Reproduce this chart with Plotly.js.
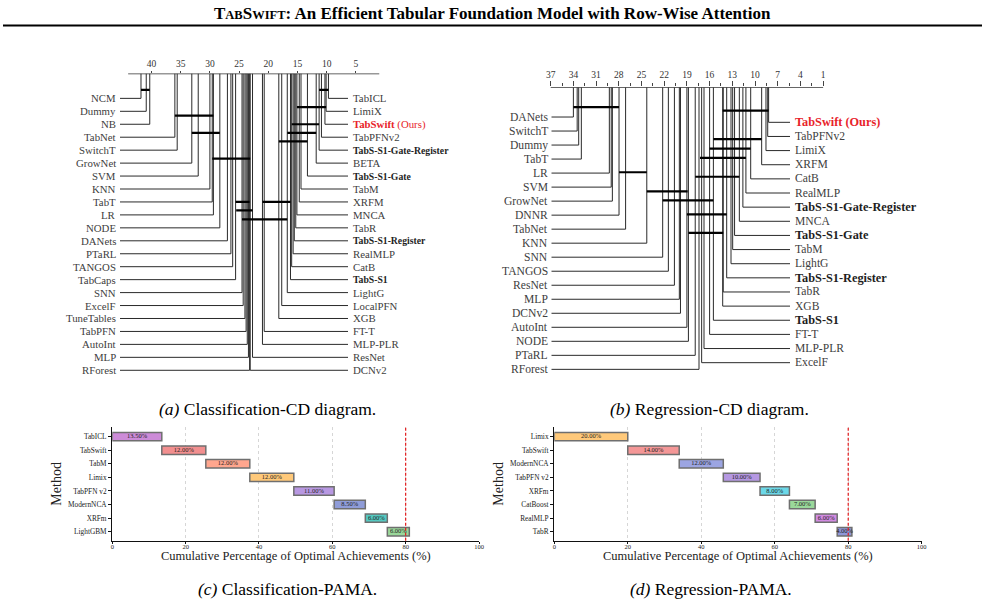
<!DOCTYPE html>
<html><head><meta charset="utf-8">
<script src="https://cdn.plot.ly/plotly-3.0.1.min.js"></script>
<style>html,body{margin:0;padding:0;background:#fff}#chart{width:985px;height:604px}</style>
</head><body><div id="chart"></div>
<script>
// ---------------- DATA ----------------
// (a) Classification CD diagram
const cdA_leftMethods = ["NCM","Dummy","NB","TabNet","SwitchT","GrowNet","SVM","KNN","TabT","LR","NODE","DANets","PTaRL","TANGOS","TabCaps","SNN","ExcelF","TuneTables","TabPFN","AutoInt","MLP","RForest"];
const cdA_leftRanks = [41.8,40.9,40.3,36.0,35.6,33.1,32.0,30.0,29.6,29.4,28.3,27.0,26.4,26.1,25.6,24.5,24.3,24.0,23.8,23.6,23.4,23.2];
const cdA_rightMethods = ["TabICL","LimiX","TabSwift (Ours)","TabPFNv2","TabS-S1-Gate-Register","BETA","TabS-S1-Gate","TabM","XRFM","MNCA","TabR","TabS-S1-Register","RealMLP","CatB","TabS-S1","LightG","LocalPFN","XGB","FT-T","MLP-PLR","ResNet","DCNv2"];
const cdA_rightRanks = [9.7,10.1,10.3,10.9,11.3,11.8,13.3,14.4,14.7,15.1,15.3,15.55,15.75,16.0,16.2,16.75,17.7,18.2,20.7,21.0,22.7,23.1];
const cdA_ticks = [40,35,30,25,20,15,10,5];
// cliques: worse rank, better rank, level (in label rows)
const cdA_cliqueLo = [41.8,11.3,15.1,36.0,16.0,33.1,16.75,18.2,29.6,25.6,21.0,25.5,24.5];
const cdA_cliqueHi = [40.3,9.7,10.1,29.4,11.3,28.3,11.8,13.3,23.1,23.2,16.2,22.7,16.75];
const cdA_cliqueLevel = [-0.65,-0.65,0.67,1.33,2.0,2.66,2.66,3.32,4.66,8.0,8.0,8.65,9.34];

// (b) Regression CD diagram
const cdB_leftMethods = ["DANets","SwitchT","Dummy","TabT","LR","SVM","GrowNet","DNNR","TabNet","KNN","SNN","TANGOS","ResNet","MLP","DCNv2","AutoInt","NODE","PTaRL","RForest"];
const cdB_leftRanks = [34.0,33.5,33.3,32.95,29.25,29.0,28.85,27.97,27.1,24.3,22.2,21.45,20.65,20.0,19.85,19.0,18.8,17.9,17.4];
const cdB_rightMethods = ["TabSwift (Ours)","TabPFNv2","LimiX","XRFM","CatB","RealMLP","TabS-S1-Gate-Register","MNCA","TabS-S1-Gate","TabM","LightG","TabS-S1-Register","TabR","XGB","TabS-S1","FT-T","MLP-PLR","ExcelF"];
const cdB_rightRanks = [8.2,8.32,8.55,9.12,10.57,11.2,11.6,12.07,12.7,12.95,13.17,13.74,14.2,14.27,15.5,16.0,16.74,17.05];
const cdB_ticks = [37,34,31,28,25,22,19,16,13,10,7,4,1];
const cdB_cliqueLo = [34.0,14.27,15.5,16.0,17.27,27.97,17.9,24.3,22.2,19.0,18.8];
const cdB_cliqueHi = [27.97,8.2,9.12,10.57,11.2,24.3,12.07,18.9,15.5,13.74,14.2];
const cdB_cliqueLevel = [-0.71,-0.45,1.57,2.26,2.92,3.94,4.26,5.3,5.94,6.95,8.27];

const boldMethods = ["TabS-S1-Gate-Register","TabS-S1-Gate","TabS-S1-Register","TabS-S1"];

// (c) Classification PAMA
const pamaC_methods = ["TabICL","TabSwift","TabM","Limix","TabPFN v2","ModernNCA","XRFm","LightGBM"];
const pamaC_values = [13.5,12,12,12,11,8.5,6,6];
const pamaC_colors = ["#cd8bd8","#f28f8f","#ffa68e","#ffc97a","#b898e2","#8f9cd8","#55c9c1","#9ad79a"];
// (d) Regression PAMA
const pamaD_methods = ["Limix","TabSwift","ModernNCA","TabPFN v2","XRFm","CatBoost","RealMLP","TabR"];
const pamaD_values = [20,14,12,10,8,7,6,4];
const pamaD_colors = ["#ffc97a","#f49797","#9ca5e2","#b598e2","#6bd8e8","#9ad89a","#d28be2","#8f97d8"];
const pamaTicks = [0,20,40,60,80,100];
const pamaThreshold = 80;

// ---------------- LAYOUT HELPERS ----------------
const W = 985, H = 604;
const PX = p => p / W;
const PY = p => 1 - p / H;
const SERIF = '"Liberation Serif","Times New Roman",serif';
const traces = [], annotations = [], shapes = [];
const RED = '#e8232a';

function cdPanel(o) {
  const n = o.leftRanks.length + o.rightRanks.length;
  traces.push({type:'scatter', mode:'lines', xaxis:o.xa, yaxis:o.ya, x:[n,1], y:[o.axisRow,o.axisRow],
    line:{color:'#333', width:1.3}, hoverinfo:'skip', showlegend:false});
  const lx = [], ly = [];
  o.leftRanks.forEach((r,i) => { lx.push(r, r, o.leftEdge, null); ly.push(o.axisRow, i, i, null); });
  o.rightRanks.forEach((r,j) => { const y = o.rStart + o.rStep*j; lx.push(r, r, o.rightEdge, null); ly.push(o.axisRow, y, y, null); });
  traces.push({type:'scatter', mode:'lines', xaxis:o.xa, yaxis:o.ya, x:lx, y:ly,
    line:{color:'#2a2a2a', width:1}, hoverinfo:'skip', showlegend:false});
  const cx = [], cy = [];
  o.cLo.forEach((lo,k) => { cx.push(lo, o.cHi[k], null); cy.push(o.cLvl[k], o.cLvl[k], null); });
  traces.push({type:'scatter', mode:'lines', xaxis:o.xa, yaxis:o.ya, x:cx, y:cy,
    line:{color:'#000', width:2.2}, hoverinfo:'skip', showlegend:false});
  const lab = (name) => {
    if (name === 'TabSwift (Ours)') return {t: o.oursAllBold ? '<b>TabSwift (Ours)</b>' : '<b>TabSwift</b> (Ours)', c: RED, s: o.oursAllBold ? o.fsBold : o.fs};
    if (boldMethods.includes(name)) return {t:'<b>'+name+'</b>', c:'#1e1e1e', s:o.fsBold};
    return {t:name, c:'#404040', s:o.fs};
  };
  o.leftMethods.forEach((m,i) => { const L = lab(m);
    annotations.push({xref:o.xa, yref:o.ya, x:o.leftEdge, y:i, xanchor:'right', yanchor:'middle', xshift:-2,
      text:L.t, showarrow:false, font:{family:SERIF, size:L.s, color:L.c}}); });
  o.rightMethods.forEach((m,j) => { const L = lab(m);
    annotations.push({xref:o.xa, yref:o.ya, x:o.rightEdge, y:o.rStart + o.rStep*j, xanchor:'left', yanchor:'middle', xshift:3,
      text:L.t, showarrow:false, font:{family:SERIF, size:L.s, color:L.c}}); });
}

const rankA = p => 10 + (326.7 - p) / 5.84;
const rankB = p => 10 + (755 - p) / 7.567;

cdPanel({xa:'x', ya:'y', leftMethods:cdA_leftMethods, leftRanks:cdA_leftRanks, rightMethods:cdA_rightMethods, rightRanks:cdA_rightRanks,
  cLo:cdA_cliqueLo, cHi:cdA_cliqueHi, cLvl:cdA_cliqueLevel, axisRow:-1.92, leftEdge:rankA(120), rightEdge:rankA(348),
  rStart:0, rStep:1, fs:10.8, fsBold:9.7, oursAllBold:false});
cdPanel({xa:'x2', ya:'y2', leftMethods:cdB_leftMethods, leftRanks:cdB_leftRanks, rightMethods:cdB_rightMethods, rightRanks:cdB_rightRanks,
  cLo:cdB_cliqueLo, cHi:cdB_cliqueHi, cLvl:cdB_cliqueLevel, axisRow:-2.12, leftEdge:rankB(551.5), rightEdge:rankB(790),
  rStart:0.378, rStep:1.0086, fs:11.6, fsBold:12.3, oursAllBold:true});

function pamaPanel(xa, ya, methods, values, colors) {
  const base = []; let acc = 0;
  values.forEach(v => { base.push(acc); acc += v; });
  traces.push({type:'bar', orientation:'h', xaxis:xa, yaxis:ya, y:methods, x:values, base:base, width:0.62,
    marker:{color:colors, line:{color:'#6f6f6f', width:1.5}}, hoverinfo:'skip', showlegend:false});
  traces.push({type:'scatter', mode:'text', xaxis:xa, yaxis:ya, y:methods, x:values.map((v,i)=>base[i]+v/2),
    text:values.map(v=>v.toFixed(2)+'%'), textfont:{family:SERIF, size:6.5, color:'#222'}, cliponaxis:false,
    hoverinfo:'skip', showlegend:false});
  shapes.push({type:'line', xref:xa, yref:ya+' domain', x0:pamaThreshold, x1:pamaThreshold, y0:0, y1:1,
    line:{color:'#e41a1c', width:1.2, dash:'3px,2px'}});
  annotations.push({xref:xa+' domain', yref:'paper', x:0.5, y:PY(556), xanchor:'center', yanchor:'middle', showarrow:false,
    text:'Cumulative Percentage of Optimal Achievements (%)', font:{family:SERIF, size:12.5, color:'#222'}});
}
pamaPanel('x3','y3', pamaC_methods, pamaC_values, pamaC_colors);
pamaPanel('x4','y4', pamaD_methods, pamaD_values, pamaD_colors);

// ---------------- AXES ----------------
const hidden = {showgrid:false, zeroline:false, showline:false, showticklabels:false, ticks:''};
const cdX = (dom, rng, ticks, extra) => Object.assign({domain:dom, range:rng, side:'top', showgrid:false, zeroline:false, showline:false,
  tickmode:'array', tickvals:ticks, ticktext:ticks.map(String), ticks:'outside', tickcolor:'#444', tickwidth:1,
  tickfont:{family:SERIF, size:9.5, color:'#333'}}, extra);

const pamaX = (dom, anchor) => ({domain:dom, range:[0,100], anchor:anchor, showline:true, linecolor:'#111', linewidth:1.3,
  ticks:'outside', ticklen:2, tickcolor:'#111', tickvals:pamaTicks, tickfont:{family:SERIF, size:6.5, color:'#222'},
  ticklabelstandoff:-3,
  showgrid:true, gridcolor:'#cccccc', griddash:'dot', gridwidth:0.8, zeroline:false});
const pamaY = (dom, anchor, cats) => ({domain:dom, type:'category', categoryorder:'array', categoryarray:cats,
  range:[7.66,-0.71], anchor:anchor, showline:true, linecolor:'#111', linewidth:1.3, ticks:'outside', ticklen:3, tickcolor:'#111',
  tickfont:{family:SERIF, size:7.3, color:'#222'}, showgrid:false, zeroline:false,
  title:{text:'Method', font:{family:SERIF, size:14, color:'#222'}, standoff:3}});

const layout = {
  width:W, height:H, margin:{l:0,r:0,t:0,b:0}, paper_bgcolor:'#fff', plot_bgcolor:'rgba(0,0,0,0)', showlegend:false,
  xaxis: cdX([PX(60),PX(460)], [rankA(60), rankA(460)], cdA_ticks, {anchor:'y', ticklen:2}),
  yaxis: Object.assign({domain:[PY(380),PY(73.5)], range:[21.75,-1.92], anchor:'x'}, hidden),
  xaxis2: cdX([PX(480),PX(985)], [rankB(480), rankB(985)], cdB_ticks, {anchor:'y2', ticklen:5,
    minor:{tickvals:cdB_ticks.slice(0,-1).map(t=>t-1.5), ticks:'outside', ticklen:3, tickcolor:'#444'}}),
  yaxis2: Object.assign({domain:[PY(380),PY(87.3)], range:[18.76,-2.12], anchor:'x2'}, hidden),
  xaxis3: pamaX([PX(112.3),PX(479)], 'y3'),
  yaxis3: pamaY([PY(540.7),PY(427)], 'x3', pamaC_methods),
  xaxis4: pamaX([PX(554.3),PX(921.7)], 'y4'),
  yaxis4: pamaY([PY(540.7),PY(427)], 'x4', pamaD_methods),
  shapes: shapes.concat([{type:'line', xref:'paper', yref:'paper', x0:PX(3), x1:PX(982), y0:PY(25.5), y1:PY(25.5), line:{color:'#000', width:2}}]),
  annotations: annotations.concat([
    {xref:'paper', yref:'paper', x:0.5, y:PY(13), xanchor:'center', yanchor:'middle', showarrow:false,
     text:'<b>T<span style="font-size:12.5px">AB</span>S<span style="font-size:12.5px">WIFT</span>: An Efficient Tabular Foundation Model with Row-Wise Attention</b>',
     font:{family:SERIF, size:17, color:'#000'}},
    {xref:'paper', yref:'paper', x:PX(267), y:PY(409), xanchor:'center', yanchor:'middle', showarrow:false,
     text:'<i>(a)</i> Classification-CD diagram.', font:{family:SERIF, size:17.5, color:'#000'}},
    {xref:'paper', yref:'paper', x:PX(709), y:PY(409), xanchor:'center', yanchor:'middle', showarrow:false,
     text:'<i>(b)</i> Regression-CD diagram.', font:{family:SERIF, size:17.5, color:'#000'}},
    {xref:'paper', yref:'paper', x:PX(287), y:PY(589), xanchor:'center', yanchor:'middle', showarrow:false,
     text:'<i>(c)</i> Classification-PAMA.', font:{family:SERIF, size:17.5, color:'#000'}},
    {xref:'paper', yref:'paper', x:PX(711), y:PY(589), xanchor:'center', yanchor:'middle', showarrow:false,
     text:'<i>(d)</i> Regression-PAMA.', font:{family:SERIF, size:17.5, color:'#000'}}
  ])
};

Plotly.newPlot('chart', traces, layout, {displayModeBar:false, staticPlot:true});
</script></body></html>
